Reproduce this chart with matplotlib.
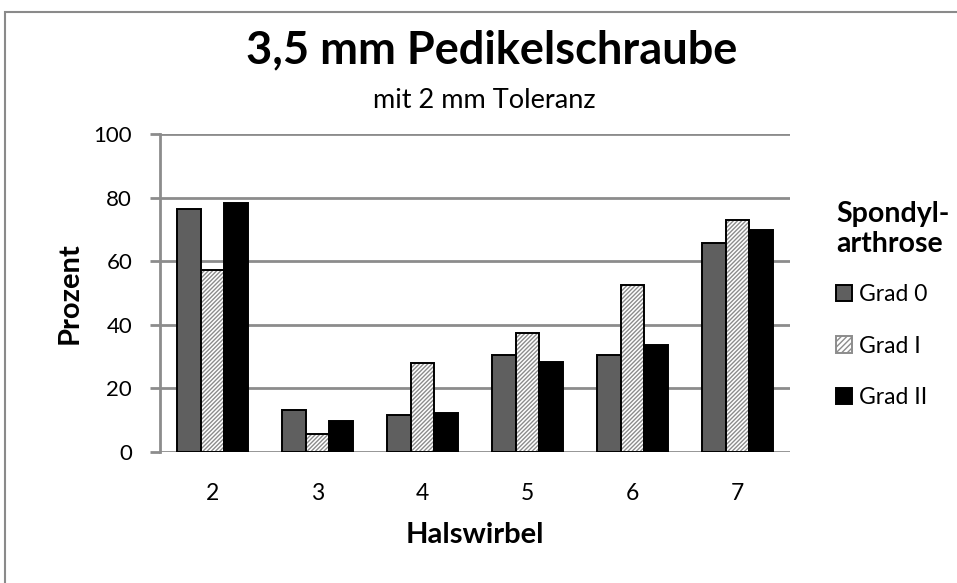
import matplotlib.pyplot as plt
import numpy as np
from matplotlib.patches import Rectangle

# Halswirbel 2-7, Anteil in Prozent je Spondylarthrose-Grad
wirbel = ["2", "3", "4", "5", "6", "7"]
grad_0 = [76.4, 13.1, 11.7, 30.6, 30.6, 65.7]
grad_1 = [57.1, 5.7, 28.0, 37.4, 52.4, 72.8]
grad_2 = [78.2, 9.8, 12.2, 28.3, 33.5, 69.8]
gruppen = ["Grad 0", "Grad I", "Grad II"]

plt.rcParams['font.family'] = ['Lato', 'DejaVu Sans']
plt.rcParams['hatch.linewidth'] = 1.0

fig = plt.figure(figsize=(9.57, 5.83), dpi=100)
W, H = 957, 583
ax = fig.add_axes([160 / W, 1 - 452 / H, 630 / W, 318 / H])

# Rahmen um das Diagramm
fig.patches.append(Rectangle((5 / W, -0.1), 1.2, 1 - 12 / H + 0.1, transform=fig.transFigure,
                             fill=False, edgecolor="#8a8a8a", linewidth=1.5))

x = np.arange(len(wirbel))
bw = 0.224
ax.bar(x - bw, grad_0, bw, color="#5f5f5f", edgecolor="black", linewidth=1.4, zorder=3)
# schraffierte Balken: Schraffur grau, Umriss schwarz darueber
ax.bar(x, grad_1, bw, color="white", edgecolor="#8c8c8c", hatch="////////", linewidth=0, zorder=3)
ax.bar(x, grad_1, bw, fill=False, edgecolor="black", linewidth=1.4, zorder=4)
ax.bar(x + bw, grad_2, bw, color="black", edgecolor="black", linewidth=1.4, zorder=3)

ax.set_xlim(-0.5, len(wirbel) - 0.5)
ax.set_ylim(0, 100)
ax.set_yticks([0, 20, 40, 60, 80, 100])
ax.set_xticks(x)
ax.set_xticklabels(wirbel)
ax.yaxis.grid(True, color="#8c8c8c", linewidth=2)
ax.set_axisbelow(True)
for s in ["top", "right", "bottom"]:
    ax.spines[s].set_visible(False)
ax.spines["left"].set_color("#8c8c8c")
ax.spines["left"].set_linewidth(2)
ax.tick_params(axis="y", length=7, width=2, color="#8c8c8c", labelsize=16, pad=13)
ax.tick_params(axis="x", length=0, labelsize=16.5, pad=22)

ax.set_ylabel("Prozent", fontsize=21, fontweight="bold", va="center")
ax.yaxis.set_label_coords((70 - 160) / 630, 0.5)
ax.set_xlabel("Halswirbel", fontsize=21, fontweight="bold", va="center")
ax.xaxis.set_label_coords(0.5, (452 - 535) / 318)

fig.text(492 / W, 1 - 50 / H, "3,5 mm Pedikelschraube", ha="center", va="center",
         fontsize=32.5, fontweight="bold")
fig.text(484 / W, 1 - 100 / H, "mit 2 mm Toleranz", ha="center", va="center", fontsize=19.5)

# Legende
handles = [
    Rectangle((0, 0), 1, 1, facecolor="#5f5f5f", edgecolor="black", linewidth=1.4),
    Rectangle((0, 0), 1, 1, facecolor="white", edgecolor="#8c8c8c", hatch="//////", linewidth=1.4),
    Rectangle((0, 0), 1, 1, facecolor="black", edgecolor="black", linewidth=1.4),
]
leg = fig.legend(handles, gruppen, loc="upper left", bbox_to_anchor=(836 / W, 1 - 201 / H),
                 frameon=False, fontsize=16.5, title="Spondyl-\narthrose",
                 title_fontproperties={"weight": "bold", "size": 20.5},
                 handlelength=0.7, handleheight=0.7, handletextpad=0.3, labelspacing=1.35,
                 alignment="left", borderaxespad=0, borderpad=0)
leg._legend_box.sep = 19

fig.savefig("out.png", dpi=100)
